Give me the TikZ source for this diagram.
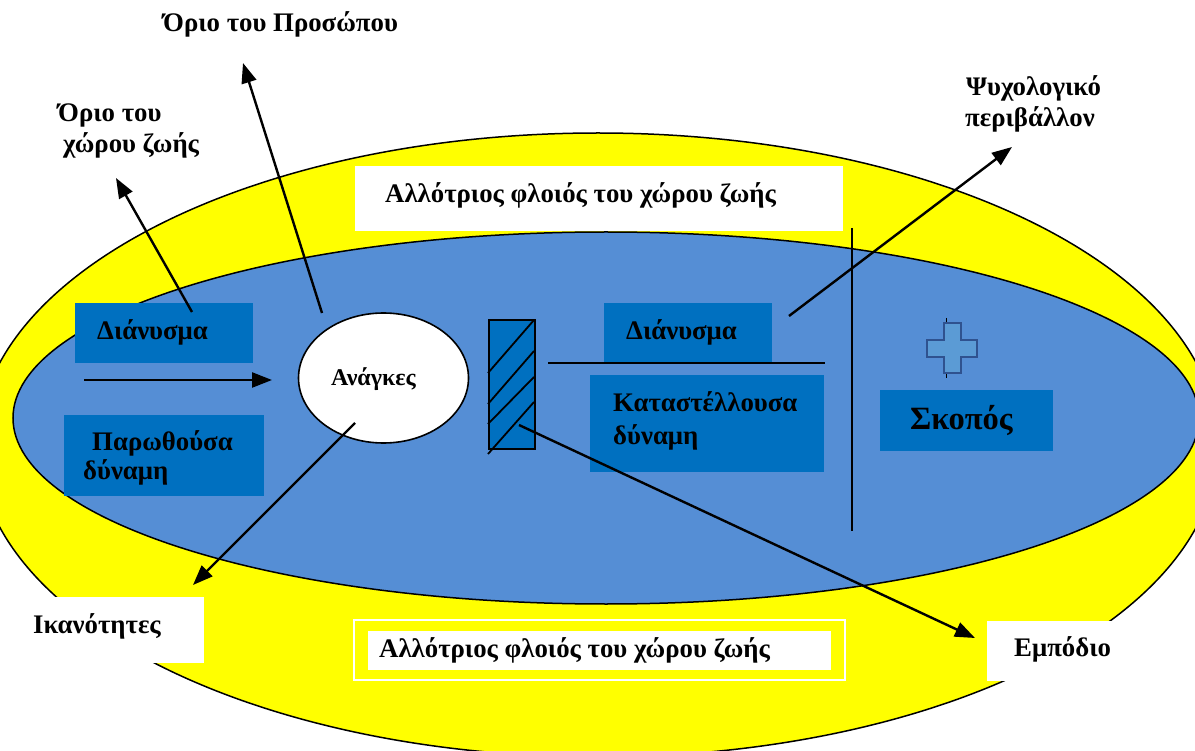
\documentclass[tikz,border=0pt]{standalone}
\usepackage{fontspec}
\setmainfont{Liberation Serif}
\usetikzlibrary{shapes.geometric,arrows.meta}
\definecolor{ylw}{RGB}{255,255,0}
\definecolor{ellblue}{RGB}{85,142,213}
\definecolor{boxblue}{RGB}{0,112,192}
\definecolor{plusfill}{RGB}{91,155,213}
\definecolor{plusline}{RGB}{47,82,143}
\begin{document}
\begin{tikzpicture}[x=1pt,y=-1pt,
  lbl/.style={font=\bfseries\fontsize{26.8}{31}\selectfont, inner sep=0pt, anchor=base west},
  bigl/.style={font=\bfseries\fontsize{32.5}{38}\selectfont, inner sep=0pt, anchor=base west},
  bbox/.style={fill=boxblue, draw=none, inner sep=0pt, anchor=north west},
  wbox/.style={fill=white, draw=none, inner sep=0pt, anchor=north west},
  arr/.style={line width=2.4pt, -{Triangle[length=20pt,width=15pt]}},
  rule/.style={line width=1.8pt}]
\path[use as bounding box] (0,0) rectangle (1195,751);
\begin{scope}
\clip (0,0) rectangle (1195,751);
\fill[white] (0,0) rectangle (1195,751);
% ellipses
\node[ellipse, draw=black, line width=1.5pt, fill=ylw, inner sep=0pt,
      minimum width=1240pt, minimum height=624pt] (yel) at (598,445) {};
\node[ellipse, draw=black, line width=1.5pt, fill=ellblue, inner sep=0pt,
      minimum width=1186pt, minimum height=372pt] (blu) at (606,418) {};
% white boxes
\node[wbox, minimum width=488pt, minimum height=65pt] (topbox) at (355,166) {};
\draw[white, line width=1.5pt] (354,620) rectangle (845,680);
\node[wbox, minimum width=463pt, minimum height=39pt] (botbox) at (368,631) {};
\node[wbox, minimum width=206pt, minimum height=66pt] (ikbox) at (-2,597) {};
\node[wbox, minimum width=210pt, minimum height=60pt] (embox) at (987,621) {};
% blue boxes
\node[bbox, minimum width=178pt, minimum height=60pt] (dlbox) at (75,303) {};
\node[bbox, minimum width=200pt, minimum height=81pt] (pdbox) at (64,415) {};
\node[bbox, minimum width=168pt, minimum height=60pt] (drbox) at (604,303) {};
\node[bbox, minimum width=234pt, minimum height=97pt] (kdbox) at (590,375) {};
\node[bbox, minimum width=173pt, minimum height=61pt] (skbox) at (880,390) {};
% needs ellipse
\node[ellipse, draw=black, line width=1.6pt, fill=white, inner sep=0pt,
      minimum width=170pt, minimum height=130pt] (anc) at (383.5,378) {};
% barrier
\node[rectangle, draw=black, line width=1.8pt, fill=boxblue, inner sep=0pt, anchor=north west,
      minimum width=46pt, minimum height=129pt] (hat) at (488,319) {};
\draw[line width=1.8pt] (488,373) -- (534,320);
\draw[line width=1.8pt] (488,404) -- (534,351);
\draw[line width=1.8pt] (488,424) -- (534,377);
\draw[line width=1.8pt] (488,454) -- (534,402);
% lines
\draw[rule] (548,363) -- (825,363);
\draw[rule] (852,228) -- (852,531);
% plus
\draw[line width=1pt] (946,318) -- (946,378);
\draw[plusline, fill=plusfill, line width=2pt]
  (943.5,323) -- (960.5,323) -- (960.5,340) -- (977,340) -- (977,357) -- (960.5,357)
  -- (960.5,373) -- (943.5,373) -- (943.5,357) -- (927,357) -- (927,340) -- (943.5,340) -- cycle;
% texts
\node[lbl] (t1) at (385,203) {Αλλότριος φλοιός του χώρου ζωής};
\node[lbl] (t2) at (379,657) {Αλλότριος φλοιός του χώρου ζωής};
\node[lbl] (t3) at (97,340) {Διάνυσμα};
\node[lbl] (t4) at (92,450) {Παρωθούσα};
\node[lbl] (t4b) at (83,479) {δύναμη};
\node[lbl] (t5) at (626,340) {Διάνυσμα};
\node[lbl] (t6) at (613,412) {Καταστέλλουσα};
\node[lbl] (t6b) at (613,444) {δύναμη};
\node[bigl] (t7) at (910,430) {Σκοπός};
\node[lbl, font=\bfseries\fontsize{24}{28}\selectfont] (t8) at (331,386) {Ανάγκες};
\node[lbl] (t9) at (33,633) {Ικανότητες};
\node[lbl] (t10) at (1014,656) {Εμπόδιο};
\node[lbl] (t11) at (163,32) {Όριο του Προσώπου};
\node[lbl] (t12) at (58,122) {Όριο του};
\node[lbl] (t12b) at (63,153) {χώρου ζωής};
\node[lbl] (t13) at (966,96) {Ψυχολογικό};
\node[lbl] (t13b) at (965,127) {περιβάλλον};
% arrows
\coordinate (a1s) at (192,312); \coordinate (a1e) at (116,178);
\coordinate (a2s) at (322,313); \coordinate (a2e) at (243,63);
\coordinate (a3s) at (789,316); \coordinate (a3e) at (1012,147);
\coordinate (a4s) at (84,380);  \coordinate (a4e) at (272,380);
\coordinate (a5s) at (355,423); \coordinate (a5e) at (193,585);
\coordinate (a6s) at (519,425); \coordinate (a6e) at (975,638);
\draw[arr] (a1s) -- (a1e);
\draw[arr] (a2s) -- (a2e);
\draw[arr] (a3s) -- (a3e);
\draw[arr] (a4s) -- (a4e);
\draw[arr] (a5s) -- (a5e);
\draw[arr] (a6s) -- (a6e);
\end{scope}
\end{tikzpicture}
\end{document}
